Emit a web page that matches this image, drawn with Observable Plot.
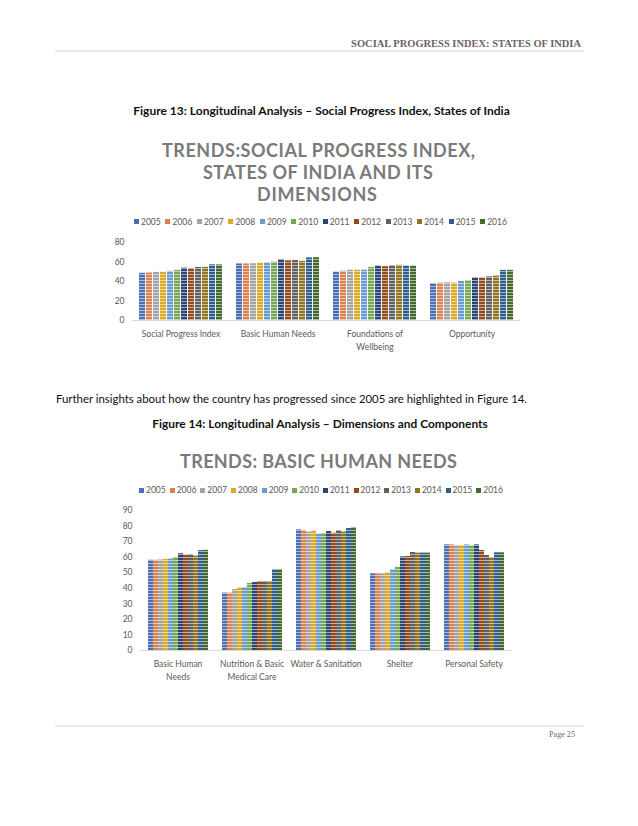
<!DOCTYPE html>
<html>
<head>
<meta charset="utf-8">
<script src="https://cdn.jsdelivr.net/npm/d3@7"></script>
<script src="https://cdn.jsdelivr.net/npm/@observablehq/plot@0.6"></script>
<style>
  body { margin: 0; background: #fff; }
  #page { position: relative; width: 638px; height: 826px; overflow: hidden; background: #fff; }
  #page > svg.overlay { position: absolute; left: 0; top: 0; }
  .chart { position: absolute; left: 0; }
  .legendbox { position: absolute; display: flex; align-items: center; height: 12px; }
  .lg-swatches { font-family: Lato, "Open Sans", sans-serif !important; font-size: 8.5px !important; color: #595959 !important; min-height: 0 !important; margin: 0 !important; flex-wrap: nowrap !important; }
  .lg-swatch { margin-right: 0 !important; }
  .lg-swatch > svg { margin-right: 2px !important; }
</style>
</head>
<body>
<div id="page"></div>
<script>
// ---------- data ----------
const years = ["2005","2006","2007","2008","2009","2010","2011","2012","2013","2014","2015","2016"];
const yearColors = ["#4A6FB2","#DB8150","#A3A3A3","#DDAA26","#679BD2","#75A855","#2A4574","#934A1D","#606060","#907420","#2D5E8F","#44692E"];

const dimCategories = ["Social Progress Index","Basic Human Needs","Foundations of Wellbeing","Opportunity"];
const dimLabels = ["Social Progress Index","Basic Human Needs","Foundations of\nWellbeing","Opportunity"];
const spiValues = [48.4, 48.7, 49.3, 49.4, 50.4, 51.4, 53.7, 53.1, 54.4, 54.5, 57.1, 57.0];
const bhnValues = [58.0, 58.0, 58.2, 58.6, 58.8, 59.8, 62.2, 61.2, 61.5, 60.7, 64.2, 64.4];
const fowValues = [49.5, 50.6, 51.6, 51.6, 51.6, 54.5, 55.7, 55.2, 56.1, 56.6, 55.7, 55.7];
const oppValues = [37.7, 38.3, 38.7, 38.4, 40.1, 41.1, 43.5, 43.5, 44.8, 45.5, 51.4, 51.4];
const dimTicks = [0, 20, 40, 60, 80];

const bhnCategories = ["Basic Human Needs","Nutrition & Basic Medical Care","Water & Sanitation","Shelter","Personal Safety"];
const bhnLabels = ["Basic Human\nNeeds","Nutrition & Basic\nMedical Care","Water & Sanitation","Shelter","Personal Safety"];
const nutritionValues = [36.9, 36.9, 39.2, 40.1, 40.5, 43.1, 43.7, 44.4, 44.4, 44.4, 52.1, 52.1];
const waterValues     = [77.6, 77.1, 76.1, 76.7, 74.8, 75.2, 76.5, 75.4, 77.1, 76.1, 78.4, 79.1];
const shelterValues   = [49.3, 49.3, 49.3, 50.1, 52.1, 53.4, 60.2, 60.4, 63.0, 62.6, 62.6, 62.6];
const safetyValues    = [67.9, 67.9, 67.3, 67.3, 67.9, 67.5, 67.9, 64.3, 61.1, 59.6, 62.8, 62.8];
const bhnTicks = [0, 10, 20, 30, 40, 50, 60, 70, 80, 90];

const dimSeries = [spiValues, bhnValues, fowValues, oppValues];
const bhnSeries = [bhnValues, nutritionValues, waterValues, shelterValues, safetyValues];

const rows1 = dimCategories.flatMap((c, i) => years.map((y, j) => ({category: c, year: y, value: dimSeries[i][j]})));
const rows2 = bhnCategories.flatMap((c, i) => years.map((y, j) => ({category: c, year: y, value: bhnSeries[i][j]})));

// ---------- page text ----------
const page = document.getElementById("page");
const over = d3.select(page).append("svg").attr("class", "overlay").attr("width", 638).attr("height", 826);

function addText({text, x, y, anchor = "start", family, size, weight = "normal", color, width = null, fit = "size"}) {
  const t = over.append("text").attr("x", x).attr("y", y).attr("text-anchor", anchor)
    .attr("font-family", family).attr("font-size", size).attr("font-weight", weight)
    .attr("fill", color).text(text);
  if (width) {
    const w = t.node().getComputedTextLength();
    if (fit === "size") t.attr("font-size", size * width / w);
    else {
      const ls = (width - w) / (text.length - 1);
      t.attr("letter-spacing", ls);
      if (anchor === "middle") t.attr("x", x + ls / 2);
    }
  }
  return t;
}
const serif = "'Liberation Serif', 'DejaVu Serif', serif";
const sans = "Lato, 'Open Sans', sans-serif";

addText({text: "SOCIAL PROGRESS INDEX: STATES OF INDIA", x: 581, y: 46.5, anchor: "end", family: serif, size: 9.5, weight: "bold", color: "#6e625f", width: 230});
over.append("line").attr("x1", 55).attr("x2", 584).attr("y1", 51).attr("y2", 51).attr("stroke", "#cdd6e3").attr("stroke-width", 1.2);

addText({text: "Figure 13: Longitudinal Analysis \u2013 Social Progress Index, States of India", x: 321.5, y: 115, anchor: "middle", family: sans, size: 10.5, weight: "bold", color: "#111", width: 377});

const tc = "#7a7a7a";
addText({text: "TRENDS:SOCIAL PROGRESS INDEX,", x: 318.5, y: 157, anchor: "middle", family: sans, size: 18, weight: "bold", color: tc, width: 313, fit: "spacing"});
addText({text: "STATES OF INDIA AND ITS", x: 318, y: 179, anchor: "middle", family: sans, size: 18, weight: "bold", color: tc, width: 230, fit: "spacing"});
addText({text: "DIMENSIONS", x: 317, y: 200.5, anchor: "middle", family: sans, size: 18, weight: "bold", color: tc, width: 120, fit: "spacing"});

addText({text: "Further insights about how the country has progressed since 2005 are highlighted in Figure 14.", x: 56, y: 403, anchor: "start", family: sans, size: 11, color: "#111", width: 472});
addText({text: "Figure 14: Longitudinal Analysis \u2013 Dimensions and Components", x: 320, y: 428, anchor: "middle", family: sans, size: 10.5, weight: "bold", color: "#111", width: 336});

addText({text: "TRENDS: BASIC HUMAN NEEDS", x: 318.5, y: 468, anchor: "middle", family: sans, size: 18, weight: "bold", color: tc, width: 277, fit: "spacing"});

over.append("line").attr("x1", 55).attr("x2", 584).attr("y1", 726).attr("y2", 726).attr("stroke", "#cdd6e3").attr("stroke-width", 1.2);
addText({text: "Page 25", x: 575, y: 737, anchor: "end", family: serif, size: 10.5, color: "#6b6b6b", width: 26});

// ---------- legends ----------
function addLegend(left, centerY, targetWidth) {
  const box = document.createElement("div");
  box.className = "legendbox";
  box.style.left = left + "px";
  box.style.top = (centerY - 6) + "px";
  const lg = Plot.legend({color: {domain: years, range: yearColors}, legend: "swatches", swatchSize: 5, className: "lg"});
  box.appendChild(lg);
  page.appendChild(box);
  const items = lg.querySelectorAll(".lg-swatch");
  let w = 0;
  items.forEach(s => w += s.getBoundingClientRect().width);
  const gap = (targetWidth - w) / (items.length - 1);
  items.forEach((s, i) => { if (i < items.length - 1) s.style.setProperty("margin-right", gap + "px", "important"); });
}
addLegend(134, 221.7, 373);
addLegend(139, 490, 364);

// ---------- charts ----------
function stripes(svg) {
  d3.select(svg).insert("defs", ":first-child").html(
    '<pattern id="stripes" patternUnits="userSpaceOnUse" width="10" height="3">' +
    '<rect x="0" y="0" width="10" height="1" fill="#ffffff" fill-opacity="0.55"></rect></pattern>');
}

function chart({rows, categories, labels, ticks, ymax, top, height, marginLeft, marginRight, marginBottom, labelDy, lineHeight, tickPadding}) {
  const svg = Plot.plot({
    width: 638,
    height,
    marginTop: 10,
    marginBottom,
    marginLeft,
    marginRight,
    style: {fontFamily: sans, fontSize: "8.5px", color: "#595959", background: "transparent", overflow: "visible"},
    fx: {domain: categories, paddingInner: 0.1, paddingOuter: 0.05, axis: null, label: null},
    x: {domain: years, padding: 0.1, axis: null},
    y: {domain: [0, ymax], ticks, tickSize: 0, tickPadding, label: null},
    color: {domain: years, range: yearColors},
    marks: [
      Plot.barY(rows, {fx: "category", x: "year", y: "value", fill: "year"}),
      Plot.barY(rows, {fx: "category", x: "year", y: "value", fill: "url(#stripes)"}),
      Plot.ruleY([0], {stroke: "#d9d9d9", strokeWidth: 1, insetLeft: -5, insetRight: -5}),
      Plot.text(categories, {fx: d => d, text: (d, i) => labels[i], frameAnchor: "bottom", lineAnchor: "top", dy: labelDy, lineHeight, fill: "#595959", fontSize: 8.5})
    ]
  });
  stripes(svg);
  const wrap = document.createElement("div");
  wrap.className = "chart";
  wrap.style.top = top + "px";
  wrap.appendChild(svg);
  page.appendChild(wrap);
}

chart({rows: rows1, categories: dimCategories, labels: dimLabels, ticks: dimTicks, ymax: 80,
  top: 232, height: 122, marginLeft: 132, marginRight: 118, marginBottom: 34, labelDy: 8, lineHeight: 1.45, tickPadding: 13});
chart({rows: rows2, categories: bhnCategories, labels: bhnLabels, ticks: bhnTicks, ymax: 90,
  top: 500, height: 186, marginLeft: 140, marginRight: 128, marginBottom: 36, labelDy: 7.5, lineHeight: 1.5, tickPadding: 12});
</script>
</body>
</html>
